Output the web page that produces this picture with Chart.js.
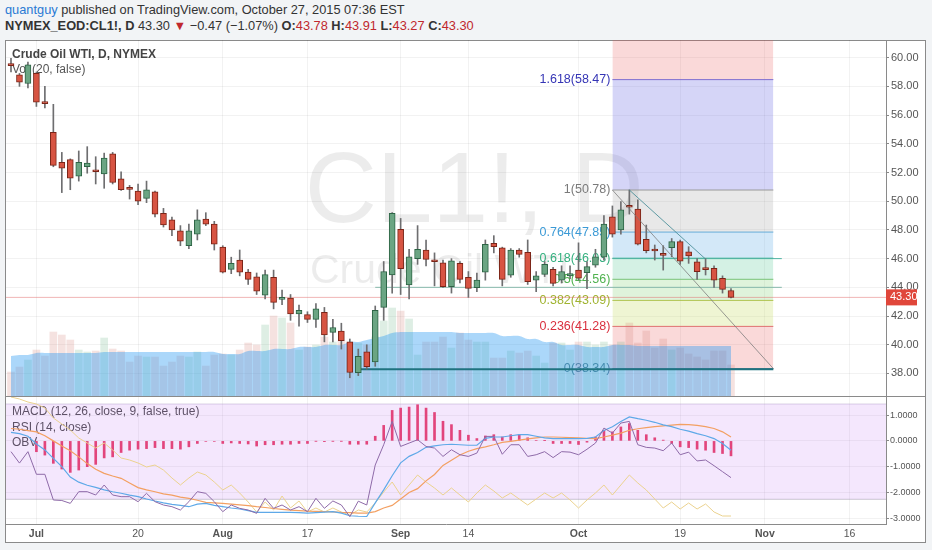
<!DOCTYPE html>
<html><head><meta charset="utf-8">
<script src="https://cdn.jsdelivr.net/npm/chart.js@4.4.1/dist/chart.umd.min.js"></script>
<style>
html,body{margin:0;padding:0;background:#f2f4f6;width:932px;height:550px;overflow:hidden;}
body{font-family:"Liberation Sans Narrow","Arial Narrow","Liberation Sans",Arial,sans-serif;}
.hdr{position:absolute;left:5px;font-size:12.8px;color:#333;white-space:nowrap;line-height:16px;}
.red{color:#c0282d}
#frame{position:absolute;left:5px;top:40px;width:921px;height:503px;box-sizing:border-box;border:1px solid #8a8a8a;background:#fff;}
#sep{position:absolute;left:5px;top:396px;width:921px;height:1px;background:#8a8a8a;}
canvas{position:absolute;}
</style></head>
<body>
<div class="hdr" style="top:2px"><span style="color:#2a7ad4">quantguy</span> published on TradingView.com, October 27, 2015 07:36 EST</div>
<div class="hdr" style="top:18px"><b>NYMEX_EOD:CL1!, D</b> 43.30 <span class="red">▼</span> −0.47 (−1.07%) <b>O:</b><span class="red">43.78</span> <b>H:</b><span class="red">43.91</span> <b>L:</b><span class="red">43.27</span> <b>C:</b><span class="red">43.30</span></div>
<div id="frame"></div>
<canvas id="c1" width="921" height="356" style="left:5px;top:40px"></canvas>
<canvas id="c2" width="921" height="147" style="left:5px;top:396px"></canvas>
<div id="sep"></div>
<script>
const NARROW = '"Liberation Sans Narrow", "Arial Narrow", "Liberation Sans", Arial, sans-serif';

// ---------- categories ----------
const dates = ['06-26','06-29','06-30','07-01','07-02','07-06','07-07','07-08','07-09','07-10',
'07-13','07-14','07-15','07-16','07-17','07-20','07-21','07-22','07-23','07-24',
'07-27','07-28','07-29','07-30','07-31','08-03','08-04','08-05','08-06','08-07',
'08-10','08-11','08-12','08-13','08-14','08-17','08-18','08-19','08-20','08-21',
'08-24','08-25','08-26','08-27','08-28','08-31','09-01','09-02','09-03','09-04',
'09-08','09-09','09-10','09-11','09-14','09-15','09-16','09-17','09-18','09-21',
'09-22','09-23','09-24','09-25','09-28','09-29','09-30','10-01','10-02','10-05',
'10-06','10-07','10-08','10-09','10-12','10-13','10-14','10-15','10-16','10-19',
'10-20','10-21','10-22','10-23','10-26','10-27'];
const futureDates = ['10-28','10-29','10-30','11-02','11-03','11-04','11-05','11-06','11-09','11-10','11-11','11-12','11-13','11-16','11-17','11-18','11-19','11-20'];
const tickDates = ['07-01','07-20','08-03','08-17','09-01','09-14','10-01','10-19','11-02','11-16'];
const tickLabels = ['Jul','20','Aug','17','Sep','14','Oct','19','Nov','16'];
const monthLabels = ['Jul','Aug','Sep','Oct','Nov'];
const priceTicks = [38,40,42,44,46,48,50,52,54,56,58,60];
const macdTicks = [1,0,-1,-2,-3];

// ---------- OHLC ----------
const open = [59.50,58.80,58.20,58.90,56.85,54.80,52.70,52.90,51.75,52.40,
52.10,51.90,53.30,51.55,50.87,50.70,50.20,50.66,49.16,48.70,
47.94,46.90,47.70,48.76,48.40,46.80,45.25,45.90,45.07,44.74,
43.46,44.70,43.16,43.25,42.14,42.10,41.77,42.26,40.86,40.95,
40.20,38.05,39.50,38.80,42.60,44.86,48.04,44.16,46.00,46.60,
45.82,45.70,44.04,45.67,44.70,43.97,45.05,47.07,46.76,44.84,
46.60,46.44,44.50,44.90,45.25,44.50,44.80,45.20,45.02,45.55,
46.10,48.92,48.00,49.63,49.45,47.35,46.58,46.27,46.76,47.18,
46.48,45.78,45.27,45.32,44.63,43.78];
const high = [59.95,58.90,59.70,59.00,58.00,56.75,53.40,52.95,53.50,53.80,
53.10,53.35,53.40,52.05,51.10,51.20,51.40,50.70,49.50,48.90,
48.30,48.40,49.40,49.20,48.60,46.90,46.10,46.60,45.25,45.00,
45.20,45.20,43.80,43.50,42.77,42.30,42.87,42.60,41.77,41.50,
40.40,39.70,40.00,42.70,45.80,49.20,48.80,46.65,48.30,47.30,
46.40,45.90,46.00,45.80,45.10,45.00,47.30,47.60,46.80,46.70,
46.70,47.30,45.10,45.80,45.40,45.50,45.50,47.10,45.80,46.65,
49.00,49.67,49.97,50.78,50.10,48.34,46.95,46.90,47.40,47.30,
46.83,46.00,46.00,45.50,44.80,43.91];
const low = [59.00,58.00,57.90,56.60,56.50,52.40,50.60,50.80,51.40,51.95,
51.20,50.90,51.20,50.75,50.15,49.75,49.90,48.90,48.20,47.60,
46.90,46.70,47.30,48.30,46.60,45.00,44.95,44.80,44.20,43.50,
43.20,42.50,42.80,41.70,41.30,41.55,41.20,40.20,40.20,39.70,
37.70,37.85,38.30,38.50,41.70,43.60,43.50,43.20,45.60,45.50,
44.10,44.00,43.60,44.30,43.30,43.70,44.50,46.40,44.10,44.70,
46.10,44.20,43.70,44.75,44.10,44.30,44.60,44.50,43.90,45.40,
45.90,47.50,47.70,49.10,46.95,46.40,45.90,45.20,46.13,45.60,
45.67,44.56,44.86,44.00,43.60,43.27];
const close = [59.45,58.30,59.50,56.90,56.80,52.50,52.30,51.60,52.70,52.65,
52.05,53.00,51.30,50.80,50.82,50.00,50.80,49.10,48.34,48.00,
47.22,47.94,48.70,48.40,47.00,45.05,45.67,45.05,44.55,43.74,
44.88,42.95,43.27,42.14,42.40,41.77,42.50,40.68,41.20,40.28,
38.07,39.20,38.47,42.40,45.10,49.15,45.30,46.13,46.65,45.95,
45.78,44.04,45.84,44.56,43.93,44.50,47.00,46.83,44.56,46.60,
46.30,44.39,44.80,45.60,44.28,45.10,44.96,44.63,45.44,46.13,
48.40,47.70,49.40,49.58,47.00,46.55,46.53,46.23,47.18,45.83,
46.18,45.09,45.23,44.50,43.86,43.30];

// ---------- volume (K contracts) and its 20-day average ----------
const volume = [168,203,252,322,280,448,427,392,322,308,
315,406,329,315,238,280,273,273,210,238,
280,273,308,210,287,294,287,322,371,357,
497,560,546,511,322,343,357,413,378,385,
371,371,357,413,525,616,595,539,287,378,
378,413,336,441,392,378,378,266,266,315,
301,315,280,231,371,371,322,378,378,357,
378,357,378,511,371,455,336,399,322,336,
294,273,252,315,315,217];
const volMA = [280,287,287,301,301,301,301,301,301,301,
301,308,308,308,308,308,308,308,308,308,
308,308,308,308,308,294,294,294,315,315,
315,329,329,329,343,343,343,357,357,357,
378,378,392,406,420,441,448,448,448,448,
448,448,448,441,441,441,441,441,420,420,
420,399,399,378,378,357,357,357,343,343,
343,357,357,357,350,350,350,350,350,350,
350,350,350,350,350,350];

// ---------- lower pane indicators ----------
const macdHist = [null,null,null,-0.42,-0.55,-0.87,-1.09,-1.22,-1.13,-1.00,
-0.91,-0.66,-0.62,-0.45,-0.36,-0.32,-0.30,-0.26,-0.30,-0.30,
-0.32,-0.23,-0.10,-0.02,-0.02,-0.10,-0.08,-0.10,-0.12,-0.20,
-0.15,-0.15,-0.13,-0.13,-0.10,-0.10,-0.01,-0.03,-0.01,-0.01,
-0.13,-0.13,-0.13,0.18,0.60,1.18,1.27,1.31,1.40,1.27,
1.10,0.76,0.63,0.41,0.22,0.09,0.19,0.24,0.15,0.24,
0.24,0.12,0.02,0.01,-0.10,-0.10,-0.10,-0.14,-0.05,0.15,
0.41,0.35,0.54,0.67,0.41,0.24,0.12,0.03,-0.10,-0.23,
-0.26,-0.32,-0.36,-0.45,-0.49,-0.58];
const macdLine = [0.33,0.28,0.18,-0.12,-0.35,-0.68,-1.00,-1.40,-1.60,-1.72,
-1.80,-1.90,-1.97,-2.03,-2.10,-2.16,-2.25,-2.33,-2.40,-2.46,
-2.50,-2.55,-2.45,-2.42,-2.50,-2.55,-2.60,-2.64,-2.70,-2.77,
-2.77,-2.77,-2.77,-2.77,-2.78,-2.80,-2.78,-2.76,-2.74,-2.80,
-2.90,-2.92,-2.93,-2.40,-1.90,-1.35,-0.85,-0.60,-0.45,-0.25,
-0.19,-0.15,-0.13,-0.15,-0.17,-0.17,0.10,0.15,0.15,0.20,
0.24,0.24,0.18,0.12,0.09,0.09,0.09,0.09,0.10,0.15,
0.40,0.55,0.75,0.93,0.86,0.80,0.72,0.62,0.55,0.45,
0.38,0.28,0.20,0.09,-0.10,-0.36];
const signalLine = [0.48,0.45,0.40,0.35,0.20,0.00,-0.20,-0.38,-0.62,-0.88,
-1.10,-1.26,-1.36,-1.45,-1.63,-1.81,-1.90,-1.97,-2.05,-2.10,
-2.18,-2.23,-2.30,-2.38,-2.40,-2.42,-2.45,-2.48,-2.51,-2.55,
-2.58,-2.62,-2.65,-2.68,-2.70,-2.72,-2.73,-2.74,-2.75,-2.77,
-2.78,-2.80,-2.80,-2.74,-2.60,-2.50,-2.25,-2.00,-1.85,-1.55,
-1.30,-0.95,-0.75,-0.55,-0.40,-0.30,-0.23,-0.15,-0.06,-0.02,
0.03,0.08,0.12,0.15,0.15,0.14,0.13,0.12,0.10,0.09,
0.15,0.22,0.30,0.41,0.47,0.51,0.55,0.58,0.61,0.64,
0.63,0.60,0.55,0.48,0.35,0.15];
const rsi = [50,45.2,50,40.5,40.5,29.7,29.5,28.3,33.2,33.2,
31.8,36,31.8,31.1,31.1,29,32.5,29,27.6,26.9,
25.5,29,33.2,32.5,29,24.8,27.6,26.2,25.5,24.1,
30.4,26.2,27.6,25.5,26.9,24.8,30.4,26.2,29.3,27.6,
22.7,29.2,27.6,44.4,52.9,62.7,52.2,53.6,55,52.2,
51.5,48,50.8,48.7,48,49.4,56.4,56.4,48.9,52.9,
52.9,48,48.7,50,47.5,50,49.8,48.7,51,53.6,
59.9,57.8,62,62.7,52.9,51.8,51.5,50.4,53.6,48.7,
49.8,46.1,46.5,44.1,41.6,39.1];
const obv = [127,125,122,120,116,106,100,94,86,81,
76,81,74,66,64,61,57,59,54,46,
39,46,52,49,42,34,39,31,22,12,
22,14,28,16,23,12,16,12,16,12,
9,14,12,21,32,42,29,39,49,42,
36,29,36,29,22,31,39,33,26,31,
25,19,25,31,26,31,24,16,24,31,
39,29,39,49,41,34,25,16,22,15,
21,15,20,12,8,8];

// ---------- drawings ----------
const fibRatios = ['0','0.236','0.382','0.5','0.618','0.764','1','1.618'];
const fibLevels = [38.34,41.28,43.09,44.56,46.03,47.85,50.78,58.47];
const fibFrom = '10-07', fibTo = '11-03';
const hLevels = [46.0, 44.0];
const hFrom = ['10-07','08-27'], hTo = '11-04';
const supportLevel = 38.3, supportFrom = '08-25';
const trendFrom = ['10-09', 50.78], trendTo = ['10-22', 45.97];
const lastPrice = 43.30;

// ---------- helpers / styles ----------
const allDates = dates.concat(futureDates);
const pos = d => allDates.indexOf(d);
const xMin = -0.59, xMax = 103.3;
const idx = dates.map((d, i) => i);
const up = idx.map(i => close[i] >= open[i]);

const fibFill = ['', 'rgba(232,80,80,0.22)', 'rgba(190,215,70,0.24)', 'rgba(110,200,90,0.22)', 'rgba(60,190,130,0.22)', 'rgba(70,160,225,0.24)', 'rgba(130,130,130,0.18)', 'rgba(80,80,220,0.24)'];
const fibLineC = ['#5d7f8c','#e07070','#b0c450','#77c377','#45b98f','#66acd8','#9a9a9a','#8070d0'];
const fibTextC = ['#5d7f8c','#d9303e','#9fb32f','#4fb24f','#34b07f','#3b9ad6','#7a7a7a','#3535b5'];

Chart.defaults.font.family = NARROW;
Chart.defaults.animation = false;

const noPadX = s => { s.paddingLeft = 0; s.paddingRight = 0; s.paddingTop = 0; s.paddingBottom = 0; };

const fa = pos(fibFrom), fb = pos(fibTo);
const ds1 = [];
for (let k = 1; k < fibLevels.length; k++) {
  ds1.push({type:'line', yAxisID:'y', order:20, data:[{x:fa,y:fibLevels[k]},{x:fb,y:fibLevels[k]}],
    fill:{value:fibLevels[k-1]}, backgroundColor:fibFill[k], borderColor:fibLineC[k], borderWidth:1, pointRadius:0});
}
ds1.push({type:'line', yAxisID:'y', order:20, data:[{x:fa,y:61.5},{x:fb,y:61.5}],
  fill:{value:fibLevels[fibLevels.length-1]}, backgroundColor:'rgba(232,80,80,0.22)', borderWidth:0, pointRadius:0});
ds1.push({type:'line', yAxisID:'y', order:19, data:[{x:fa,y:fibLevels[0]},{x:fb,y:fibLevels[0]}],
  borderColor:fibLineC[0], borderWidth:1, pointRadius:0, fill:false});
// volume
ds1.push({type:'bar', yAxisID:'yv', order:15, grouped:false, barThickness:7,
  data: idx.map(i => ({x:i, y:volume[i]})),
  backgroundColor: idx.map(i => up[i] ? 'rgba(90,170,120,0.2)' : 'rgba(205,110,100,0.2)')});
ds1.push({type:'line', yAxisID:'yv', order:14, data: idx.map(i => ({x:i, y:volMA[i]})),
  fill:'origin', backgroundColor:'rgba(33,150,243,0.38)', borderWidth:0, pointRadius:0, tension:0.3});
// horizontal lines
ds1.push({type:'line', yAxisID:'y', order:10, data:[{x:xMin,y:lastPrice},{x:xMax,y:lastPrice}],
  borderColor:'rgba(225,90,90,0.45)', borderWidth:1, pointRadius:0, fill:false});
hLevels.forEach((lv, j) => ds1.push({type:'line', yAxisID:'y', order:10,
  data:[{x:pos(hFrom[j]),y:lv},{x:pos(hTo),y:lv}], borderColor: j === 0 ? '#4fb3a3' : '#86b8ab', borderWidth:1, pointRadius:0, fill:false}));
ds1.push({type:'line', yAxisID:'y', order:9, data:[{x:pos(supportFrom),y:supportLevel},{x:fb,y:supportLevel}],
  borderColor:'#1f7380', borderWidth:2, pointRadius:0, fill:false});
// candles
ds1.push({type:'bar', yAxisID:'y', order:3, grouped:false, barThickness:1,
  data: idx.map(i => ({x:i, y:[low[i], high[i]]})), backgroundColor:'#6e6e70'});
ds1.push({type:'bar', yAxisID:'y', order:2, grouped:false, barThickness:6, minBarLength:2,
  data: idx.map(i => ({x:i, y:[open[i], close[i]]})),
  backgroundColor: idx.map(i => up[i] ? '#6ba583' : '#d75442'),
  borderColor: idx.map(i => up[i] ? '#2d6445' : '#7a2417'), borderWidth:1, borderSkipped:false});
// diagonal lines
ds1.push({type:'line', yAxisID:'y', order:1, data:[{x:fa,y:fibLevels[6]},{x:fb,y:fibLevels[0]}],
  borderColor:'rgba(120,120,120,0.75)', borderWidth:1, pointRadius:0, fill:false});
ds1.push({type:'line', yAxisID:'y', order:1, data:[{x:pos(trendFrom[0]),y:trendFrom[1]},{x:pos(trendTo[0]),y:trendTo[1]}],
  borderColor:'rgba(70,140,150,0.85)', borderWidth:1, pointRadius:0, fill:false});

const mainDecor = {
  id:'mainDecor',
  beforeDatasetsDraw(chart) {
    const {ctx, chartArea:a, scales:{x, y}} = chart;
    ctx.save();
    ctx.fillStyle = 'rgba(0,0,0,0.075)';
    ctx.textBaseline = 'alphabetic';
    ctx.textAlign = 'center';
    ctx.font = '100px "Liberation Sans", Arial, sans-serif';
    ctx.fillText('CL1!, D', a.left + a.width * 0.532, a.top + 182);
    ctx.textAlign = 'left';
    ctx.font = '41px "Liberation Sans", Arial, sans-serif';
    ctx.fillText('Crude Oil WTI', a.left + 304, a.top + 243);
    // fib labels
    ctx.font = '12.5px ' + NARROW;
    ctx.textAlign = 'right'; ctx.textBaseline = 'middle';
    fibLevels.forEach((lv, k) => {
      ctx.fillStyle = fibTextC[k];
      ctx.fillText(fibRatios[k] + '(' + lv.toFixed(2) + ')', x.getPixelForValue(fa) - 2, y.getPixelForValue(lv));
    });
    // pane legend
    ctx.textAlign = 'left';
    ctx.fillStyle = '#444';
    ctx.font = 'bold 12px ' + NARROW;
    ctx.fillText('Crude Oil WTI, D, NYMEX', a.left + 6, a.top + 15);
    ctx.fillStyle = '#555';
    ctx.font = '12px ' + NARROW;
    ctx.fillText('Vol (20, false)', a.left + 6, a.top + 30);
    ctx.restore();
  },
  afterDraw(chart) {
    const {ctx, chartArea:a, scales:{y}} = chart;
    const py = y.getPixelForValue(lastPrice);
    ctx.save();
    ctx.fillStyle = '#e0463a';
    ctx.fillRect(a.right, py - 8, 31, 16);
    ctx.fillStyle = '#fff';
    ctx.font = '11px ' + NARROW;
    ctx.textAlign = 'left'; ctx.textBaseline = 'middle';
    ctx.fillText(lastPrice.toFixed(2), a.right + 4, py);
    ctx.restore();
  }
};

const tickPos = tickDates.map(pos);

new Chart(document.getElementById('c1'), {
  type:'bar',
  data:{datasets: ds1},
  options:{
    responsive:false, maintainAspectRatio:false,
    layout:{padding:{left:1, top:0, right:0, bottom:0}},
    plugins:{legend:{display:false}, tooltip:{enabled:false}},
    scales:{
      x:{type:'linear', min:xMin, max:xMax, offset:false,
        afterBuildTicks: s => { s.ticks = tickPos.map(v => ({value:v})); },
        afterFit: s => { s.height = 0; noPadX(s); },
        ticks:{display:false}, grid:{color:'rgba(0,0,0,0.05)', drawTicks:false, offset:false}, border:{display:false}},
      y:{position:'right', min:36.43, max:61.23,
        afterBuildTicks: s => { s.ticks = priceTicks.map(v => ({value:v})); },
        afterFit: s => { s.width = 40; noPadX(s); },
        ticks:{callback: v => v.toFixed(2), color:'#555', font:{size:11}, padding:2},
        grid:{color:'rgba(0,0,0,0.05)', tickColor:'#888', tickLength:3},
        border:{color:'#8a8a8a'}},
      yv:{display:false, min:0, max:2492}
    }
  },
  plugins:[mainDecor]
});

// ---------- lower pane ----------
const ds2 = [];
ds2.push({type:'line', yAxisID:'yr', order:20, data:[{x:xMin,y:70},{x:xMax,y:70}], fill:{value:30},
  backgroundColor:'rgba(165,60,235,0.12)', borderColor:'rgba(150,130,180,0.35)', borderWidth:1, pointRadius:0});
ds2.push({type:'line', yAxisID:'yr', order:20, data:[{x:xMin,y:30},{x:xMax,y:30}], fill:false,
  borderColor:'rgba(140,140,150,0.45)', borderWidth:1, pointRadius:0});
ds2.push({type:'bar', yAxisID:'y', order:6, grouped:false, barThickness:2,
  data: idx.filter(i => macdHist[i] !== null).map(i => ({x:i, y:macdHist[i]})), backgroundColor:'#e2457c'});
ds2.push({type:'line', yAxisID:'yo', order:5, data: idx.map(i => ({x:i, y:obv[i]})),
  borderColor:'#ebd28e', borderWidth:1, pointRadius:0, fill:false});
ds2.push({type:'line', yAxisID:'y', order:4, data: idx.map(i => ({x:i, y:signalLine[i]})),
  borderColor:'#f3a062', borderWidth:1.2, pointRadius:0, fill:false});
ds2.push({type:'line', yAxisID:'y', order:3, data: idx.map(i => ({x:i, y:macdLine[i]})),
  borderColor:'#5ea9e8', borderWidth:1.2, pointRadius:0, fill:false});
ds2.push({type:'line', yAxisID:'yr', order:2, data: idx.map(i => ({x:i, y:rsi[i]})),
  borderColor:'#8e6aa8', borderWidth:1, pointRadius:0, fill:false});

const lowerDecor = {
  id:'lowerDecor',
  beforeDatasetsDraw(chart) {
    const {ctx, chartArea:a} = chart;
    ctx.save();
    ctx.fillStyle = '#555';
    ctx.font = '12px ' + NARROW;
    ctx.textAlign = 'left'; ctx.textBaseline = 'middle';
    ctx.fillText('MACD (12, 26, close, 9, false, true)', a.left + 6, a.top + 15);
    ctx.fillText('RSI (14, close)', a.left + 6, a.top + 31);
    ctx.fillText('OBV', a.left + 6, a.top + 46);
    ctx.restore();
  }
};

new Chart(document.getElementById('c2'), {
  type:'bar',
  data:{datasets: ds2},
  options:{
    responsive:false, maintainAspectRatio:false,
    layout:{padding:{left:1, top:1, right:0, bottom:0}},
    plugins:{legend:{display:false}, tooltip:{enabled:false}},
    scales:{
      x:{type:'linear', min:xMin, max:xMax, offset:false,
        afterBuildTicks: s => { s.ticks = tickPos.map(v => ({value:v})); },
        afterFit: s => { s.height = 19; noPadX(s); },
        ticks:{autoSkip:false, maxRotation:0, padding:4, color:'#555',
          callback: v => tickLabels[tickPos.indexOf(v)],
          font: c => ({size:10.5, weight: monthLabels.includes(tickLabels[tickPos.indexOf(c.tick ? c.tick.value : -1)]) ? 'bold' : 'normal'})},
        grid:{color:'rgba(0,0,0,0.05)', drawTicks:false, offset:false}, border:{color:'#8a8a8a'}},
      y:{position:'right', min:-3.22, max:1.70,
        afterBuildTicks: s => { s.ticks = macdTicks.map(v => ({value:v})); },
        afterFit: s => { s.width = 40; noPadX(s); },
        ticks:{callback: v => v.toFixed(4), color:'#555', font:{size:9}, padding:1},
        grid:{color:'rgba(0,0,0,0.05)', tickColor:'#888', tickLength:3},
        border:{color:'#8a8a8a'}},
      yr:{display:false, min:19.63, max:72.94},
      yo:{display:false, min:0, max:127}
    }
  },
  plugins:[lowerDecor]
});
</script>
</body></html>
